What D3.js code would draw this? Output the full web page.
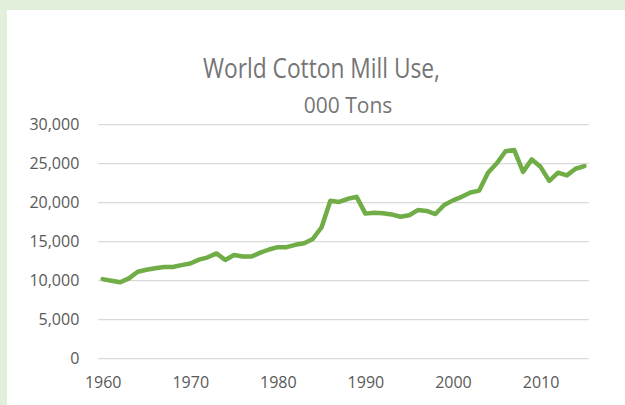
<!DOCTYPE html>
<html>
<head>
<meta charset="utf-8">
<script src="https://cdn.jsdelivr.net/npm/d3@7"></script>
<style>
  html, body { margin: 0; padding: 0; background: #ffffff; }
  svg { display: block; }
  .tick text { font-family: "Open Sans", "Noto Sans", sans-serif; font-size: 16px; fill: #595959; }
</style>
</head>
<body>
<div id="chart"></div>
<script>
// World cotton mill use, thousand tons
const years = d3.range(1960, 2016);
const millUse = [
  10200, 10000, 9800, 10300, 11150, 11400, 11600, 11750, 11750, 12000,
  12200, 12700, 13000, 13500, 12650, 13300, 13100, 13100, 13600, 14000,
  14300, 14300, 14600, 14800, 15350, 16850, 20250, 20100, 20500, 20750,
  18600, 18700, 18650, 18500, 18200, 18400, 19050, 18950, 18550, 19700,
  20300, 20750, 21300, 21550, 23850, 25050, 26600, 26750, 23950, 25550,
  24600, 22800, 23850, 23500, 24350, 24700
];
const yTicks = [0, 5000, 10000, 15000, 20000, 25000, 30000];
const xTickYears = [1960, 1970, 1980, 1990, 2000, 2010];
const titleLines = ['World Cotton Mill Use,', '000 Tons'];

const width = 625, height = 405;
const plot = { left: 98.3, right: 588.7, top: 124.7, bottom: 358.7 };

const svg = d3.select('#chart')
  .append('svg')
  .attr('width', width)
  .attr('height', height);

// pale green frame along the top and left edges
svg.append('rect').attr('x', 0).attr('y', 0).attr('width', width).attr('height', 10).attr('fill', '#e2efda');
svg.append('rect').attr('x', 0).attr('y', 0).attr('width', 7).attr('height', height).attr('fill', '#e2efda');

const x = d3.scalePoint()
  .domain(years)
  .range([plot.left, plot.right])
  .padding(0.5);

const y = d3.scaleLinear()
  .domain([0, 30000])
  .range([plot.bottom, plot.top]);

// gridlines
svg.append('g')
  .selectAll('line')
  .data(yTicks)
  .join('line')
  .attr('x1', plot.left)
  .attr('x2', plot.right)
  .attr('y1', d => y(d))
  .attr('y2', d => y(d))
  .attr('stroke', '#d9d9d9')
  .attr('stroke-width', 1.2);

// y axis labels
const yAxis = svg.append('g')
  .attr('transform', `translate(${plot.left - 8},0)`)
  .call(d3.axisLeft(y).tickValues(yTicks).tickFormat(d3.format(',')).tickSize(0).tickPadding(11));
yAxis.select('.domain').remove();

// x axis labels
const xAxis = svg.append('g')
  .attr('transform', `translate(0,${plot.bottom})`)
  .call(d3.axisBottom(x).tickValues(xTickYears).tickSize(0).tickPadding(18));
xAxis.select('.domain').remove();

// series line
const line = d3.line()
  .x((d, i) => x(years[i]))
  .y(d => y(d));

svg.append('path')
  .datum(millUse)
  .attr('fill', 'none')
  .attr('stroke', '#70ad47')
  .attr('stroke-width', 4.5)
  .attr('stroke-linejoin', 'round')
  .attr('stroke-linecap', 'round')
  .attr('d', line);

// title
svg.append('text')
  .attr('x', 203)
  .attr('y', 78)
  .attr('textLength', 237)
  .attr('lengthAdjust', 'spacingAndGlyphs')
  .style('font-family', '"Open Sans", "Noto Sans", sans-serif')
  .style('font-size', '27px')
  .style('fill', '#757575')
  .text(titleLines[0]);

svg.append('text')
  .attr('x', 348)
  .attr('y', 113)
  .attr('text-anchor', 'middle')
  .style('font-family', '"Open Sans", "Noto Sans", sans-serif')
  .style('font-size', '21px')
  .style('fill', '#757575')
  .text(titleLines[1]);
</script>
</body>
</html>
